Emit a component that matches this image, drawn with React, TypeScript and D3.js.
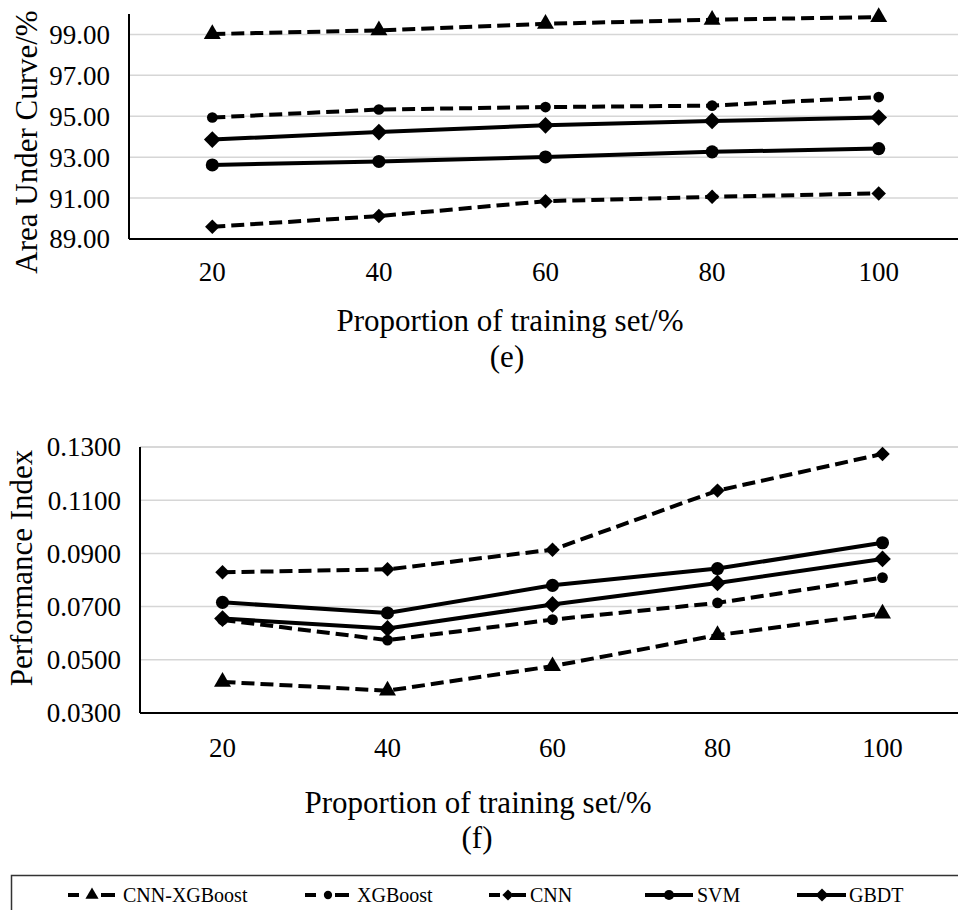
import React from 'react';
import * as d3 from 'd3';

const categories = ['20', '40', '60', '80', '100'];
const seriesNames = ['CNN-XGBoost', 'XGBoost', 'CNN', 'SVM', 'GBDT'];

// (e) Area Under Curve
const aucCnnXgb = [99.02, 99.2, 99.52, 99.72, 99.85];
const aucXgb = [94.94, 95.33, 95.45, 95.52, 95.94];
const aucCnn = [89.6, 90.12, 90.85, 91.06, 91.23];
const aucSvm = [92.62, 92.79, 93.01, 93.26, 93.42];
const aucGbdt = [93.86, 94.23, 94.56, 94.77, 94.94];
const aucTicks = [89, 91, 93, 95, 97, 99];

// (f) Performance Index
const piCnnXgb = [0.0417, 0.0384, 0.0476, 0.0593, 0.0674];
const piXgb = [0.065, 0.0574, 0.0651, 0.0714, 0.0809];
const piCnn = [0.0829, 0.084, 0.0914, 0.1136, 0.1274];
const piSvm = [0.0716, 0.0676, 0.078, 0.0843, 0.094];
const piGbdt = [0.0655, 0.0618, 0.0708, 0.0789, 0.0879];
const piTicks = [0.03, 0.05, 0.07, 0.09, 0.11, 0.13];

const FONT = 'Liberation Serif, Times New Roman, serif';

type Style = { dashed: boolean; marker: 'triangle' | 'circle' | 'diamond'; size: number };
const styles: Style[] = [
  { dashed: true, marker: 'triangle', size: 125 },
  { dashed: true, marker: 'circle', size: 90 },
  { dashed: true, marker: 'diamond', size: 105 },
  { dashed: false, marker: 'circle', size: 135 },
  { dashed: false, marker: 'diamond', size: 140 },
];

function Marker({ kind, size, x, y }: { kind: string; size: number; x: number; y: number }) {
  if (kind === 'diamond') {
    const p = d3.symbol().type(d3.symbolSquare).size(size)() as string;
    return <path d={p} transform={`translate(${x},${y}) rotate(45)`} fill="#000" />;
  }
  const t = kind === 'triangle' ? d3.symbolTriangle : d3.symbolCircle;
  const p = d3.symbol().type(t).size(size)() as string;
  return <path d={p} transform={`translate(${x},${y})`} fill="#000" />;
}

function Panel({
  data, ticks, domain, fmt, left, top, bottom, right, yTitle, yTitleX, yTitleY,
  tickBase, xTitleY, xTitleX, tag, tagX, tagY, topGrid,
}: any) {
  const x = d3.scalePoint<string>().domain(categories).range([left, right]).padding(0.5);
  const y = d3.scaleLinear().domain(domain).range([bottom, top]);
  const line = d3.line<number>().x((_, i) => x(categories[i]) as number).y((d) => y(d));
  const gridTicks = ticks.slice(1).concat(topGrid ? [domain[1]] : []);
  return (
    <g>
      {gridTicks.map((t: number) => (
        <line key={t} x1={left} x2={958} y1={y(t)} y2={y(t)} stroke="#d6d6d6" strokeWidth={1.5} />
      ))}
      <line x1={left} x2={958} y1={bottom} y2={bottom} stroke="#000" strokeWidth={2} />
      <line x1={left} x2={left} y1={top} y2={bottom} stroke="#000" strokeWidth={2} />
      {ticks.map((t: number) => (
        <text key={t} x={left - 19} y={y(t)} dy="0.35em" textAnchor="end" fontSize={27} fontFamily={FONT}>
          {fmt(t)}
        </text>
      ))}
      {categories.map((c) => (
        <text key={c} x={x(c)} y={tickBase} textAnchor="middle" fontSize={27} fontFamily={FONT}>
          {c}
        </text>
      ))}
      {data.map((vals: number[], si: number) => (
        <g key={si}>
          <path d={line(vals) as string} fill="none" stroke="#000" strokeWidth={4}
            strokeDasharray={styles[si].dashed ? '13 6' : undefined} />
          {vals.map((v, i) => (
            <Marker key={i} kind={styles[si].marker} size={styles[si].size} x={x(categories[i]) as number} y={y(v)} />
          ))}
        </g>
      ))}
      <text transform={`translate(${yTitleX},${yTitleY}) rotate(-90)`} textAnchor="middle" fontSize={31} fontFamily={FONT}>
        {yTitle}
      </text>
      <text x={xTitleX} y={xTitleY} textAnchor="middle" fontSize={31} fontFamily={FONT}>
        Proportion of training set/%
      </text>
      <text x={tagX} y={tagY} textAnchor="middle" fontSize={31} fontFamily={FONT}>
        {tag}
      </text>
    </g>
  );
}

const legendPos = [
  { start: 68, marker: 92, end: 115, text: 123 },
  { start: 305, marker: 328, end: 349, text: 357 },
  { start: 489, marker: 508, end: 526, text: 530 },
  { start: 645, marker: 669, end: 693, text: 697 },
  { start: 797, marker: 822, end: 846, text: 849 },
];

export default function App() {
  return (
    <svg width={958} height={910} style={{ position: 'absolute', left: 0, top: 0, background: '#fff' }}>
      <rect width={958} height={910} fill="#fff" />
      <Panel
        data={[aucCnnXgb, aucXgb, aucCnn, aucSvm, aucGbdt]}
        ticks={aucTicks} domain={[89, 100]} fmt={(t: number) => t.toFixed(2)}
        left={129} right={962} top={14} bottom={239}
        yTitle="Area Under Curve/%" yTitleX={37} yTitleY={142}
        tickBase={281} xTitleX={510} xTitleY={331} tag="(e)" tagX={507} tagY={367} topGrid={false}
      />
      <Panel
        data={[piCnnXgb, piXgb, piCnn, piSvm, piGbdt]}
        ticks={piTicks} domain={[0.03, 0.13]} fmt={(t: number) => t.toFixed(4)}
        left={140} right={965} top={447} bottom={713}
        yTitle="Performance Index" yTitleX={32} yTitleY={568}
        tickBase={757} xTitleX={478} xTitleY={813} tag="(f)" tagX={477} tagY={848} topGrid={true}
      />
      <rect x={11.5} y={875.5} width={960} height={60} fill="none" stroke="#333" strokeWidth={1.5} />
      {seriesNames.map((name, i) => {
        const p = legendPos[i];
        const s = styles[i];
        return (
          <g key={name}>
            {s.dashed ? (
              <>
                <line x1={p.start} x2={p.start + 11} y1={895} y2={895} stroke="#000" strokeWidth={4} />
                <line x1={p.end - 14} x2={p.end} y1={895} y2={895} stroke="#000" strokeWidth={4} />
              </>
            ) : (
              <line x1={p.start} x2={p.end} y1={895} y2={895} stroke="#000" strokeWidth={4} />
            )}
            <Marker kind={s.marker} size={s.size * 0.6} x={p.marker} y={895} />
            <text x={p.text} y={902} fontSize={20} fontFamily={FONT}>{name}</text>
          </g>
        );
      })}
    </svg>
  );
}
